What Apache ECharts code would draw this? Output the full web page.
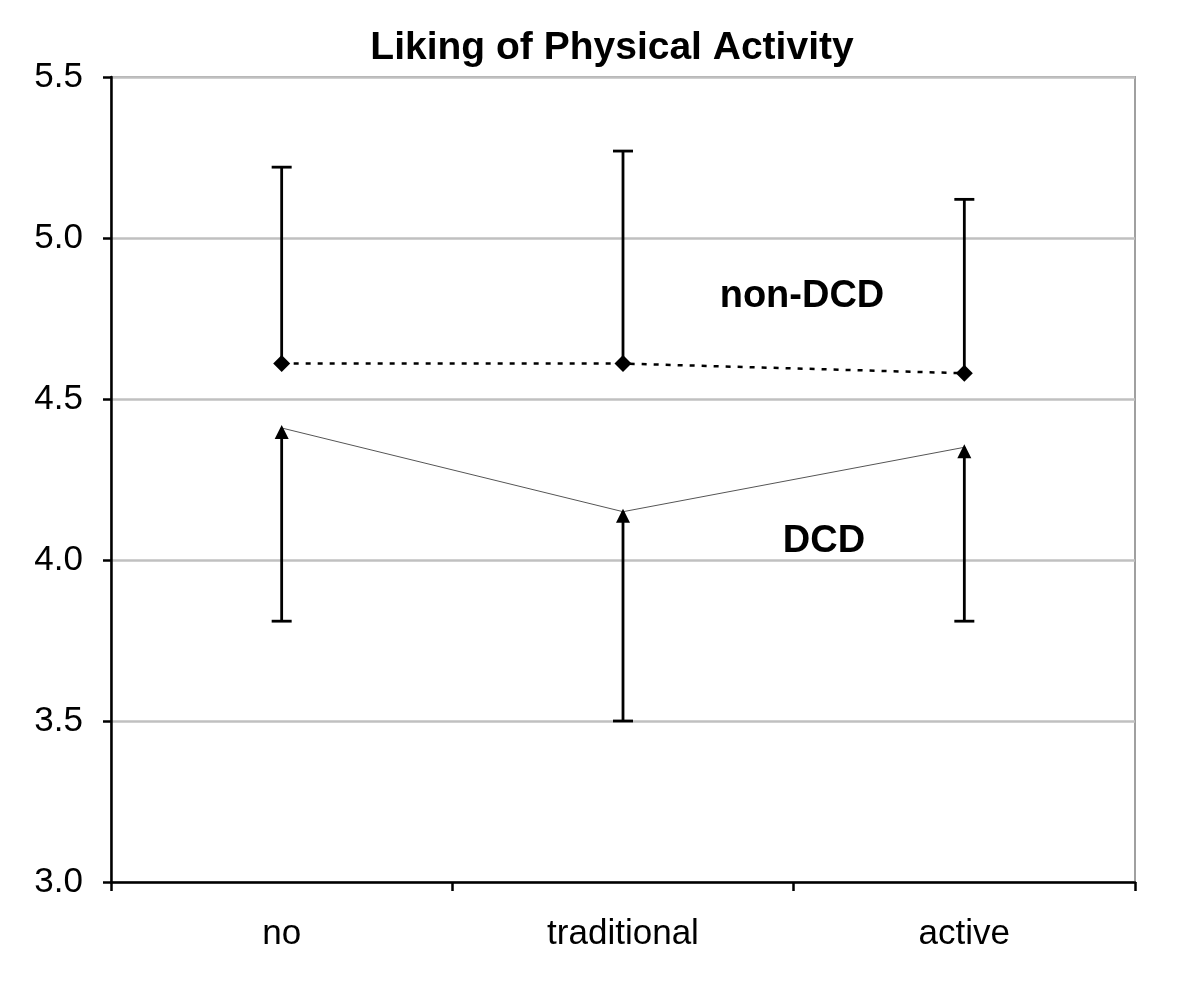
<!DOCTYPE html>
<html><head><meta charset="utf-8">
<script src="https://cdn.jsdelivr.net/npm/echarts@6/dist/echarts.min.js"></script>
<style>html,body{margin:0;padding:0;background:#fff}#c{width:1200px;height:1001px}</style>
</head><body><div id="c"></div>
<script>
const categories = ['no', 'traditional', 'active'];
const nonDcdMean = [4.61, 4.61, 4.58];
const nonDcdUpper = [5.22, 5.27, 5.12];
const dcdMean = [4.41, 4.15, 4.35];
const dcdLower = [3.81, 3.50, 3.81];
const yTicks = [3.0, 3.5, 4.0, 4.5, 5.0, 5.5];

const chart = echarts.init(document.getElementById('c'), null, {renderer: 'canvas'});
const font = '"Liberation Sans", Arial, sans-serif';

function errBarSeries(mean, bound) {
  return {
    type: 'custom',
    z: 1,
    data: categories.map((c, i) => [i, mean[i], bound[i]]),
    renderItem: function (params, api) {
      const p0 = api.coord([api.value(0), api.value(1)]);
      const p1 = api.coord([api.value(0), api.value(2)]);
      const hw = 10;
      const st = {stroke: '#000', lineWidth: 2.8};
      return {type: 'group', children: [
        {type: 'line', shape: {x1: p0[0], y1: p0[1], x2: p1[0], y2: p1[1]}, style: st},
        {type: 'line', shape: {x1: p1[0] - hw, y1: p1[1], x2: p1[0] + hw, y2: p1[1]}, style: st}
      ]};
    }
  };
}

chart.setOption({
  animation: false,
  title: {
    text: 'Liking of Physical Activity', left: 607, top: 24, textAlign: 'center',
    textStyle: {fontFamily: font, fontSize: 39, fontWeight: 'bold', color: '#000'}
  },
  grid: {left: 111, right: 65, top: 77, bottom: 119, show: true, borderColor: '#a0a0a0', borderWidth: 2},
  xAxis: {
    type: 'category', data: categories, boundaryGap: true,
    axisLine: {lineStyle: {color: '#000', width: 2.5}},
    axisTick: {show: true, length: 9, inside: false, lineStyle: {color: '#000', width: 2.5}},
    axisLabel: {fontFamily: font, fontSize: 35, color: '#000', margin: 35},
    splitLine: {show: false}
  },
  yAxis: {
    type: 'value', min: 3.0, max: 5.5, interval: 0.5,
    axisLine: {show: true, lineStyle: {color: '#000', width: 2.5}},
    axisTick: {show: true, length: 8, lineStyle: {color: '#000', width: 2.5}},
    axisLabel: {fontFamily: font, fontSize: 35, color: '#000', margin: 28,
      formatter: v => yTicks.includes(v) ? v.toFixed(1) : ''},
    splitLine: {show: true, lineStyle: {color: '#c0c0c0', width: 2.5}}
  },
  series: [
    errBarSeries(nonDcdMean, nonDcdUpper),
    errBarSeries(dcdMean, dcdLower),
    {
      type: 'line', name: 'non-DCD', data: nonDcdMean, z: 3,
      symbol: 'diamond', symbolSize: 17,
      itemStyle: {color: '#000'},
      lineStyle: {color: '#000', width: 2.5, type: [5, 7]}
    },
    {
      type: 'line', name: 'DCD', data: dcdMean, z: 3,
      symbol: 'triangle', symbolSize: [14, 14], symbolOffset: [0, 4],
      itemStyle: {color: '#000'},
      lineStyle: {color: '#555', width: 1}
    }
  ],
  graphic: [
    {type: 'text', x: 802, y: 297, style: {text: 'non-DCD', font: 'bold 38px ' + font, fill: '#000', align: 'center', verticalAlign: 'middle'}},
    {type: 'text', x: 824, y: 542, style: {text: 'DCD', font: 'bold 38px ' + font, fill: '#000', align: 'center', verticalAlign: 'middle'}}
  ]
});
</script></body></html>
